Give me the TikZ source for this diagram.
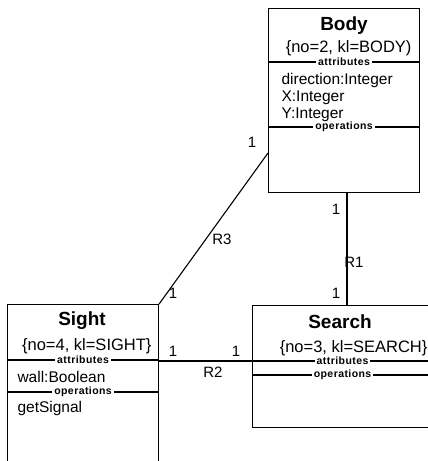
\documentclass[tikz,border=0pt]{standalone}
\usepackage{fontspec}
\setmainfont{Liberation Sans}
\newfontfamily\sectfam[LetterSpace=4]{Liberation Sans}
\begin{document}
\begin{tikzpicture}[x=1pt,y=-1pt,line width=1.1pt,
  box/.style={draw,anchor=north west,inner sep=0,rectangle},
  title/.style={font=\fontsize{19}{22}\selectfont\bfseries,anchor=base,inner sep=0},
  info/.style={font=\fontsize{16.5}{19}\selectfont,anchor=base east,inner sep=0},
  item/.style={font=\fontsize{15.5}{18}\selectfont,anchor=base west,inner sep=0},
  sect/.style={font=\sectfam\fontsize{10.5}{12}\selectfont\bfseries,fill=white,inner xsep=2pt,inner ysep=0.5pt},
  lab/.style={font=\fontsize{15}{17}\selectfont,inner sep=0}]
\useasboundingbox (0,0) rectangle (428,461);
\clip (0,0) rectangle (428,461);
% boxes
\node[box,minimum width=151pt,minimum height=184pt] (Body) at (268,8) {};
\node[box,minimum width=151pt,minimum height=175pt] (Sight) at (7,304) {};
\node[box,minimum width=180pt,minimum height=122pt] (Search) at (252,305) {};
% Body
\node[title] (bodyT) at (344,30) {Body};
\node[info] (bodyI) at (412,52) {\{no=2, kl=BODY)};
\draw (Body.west |- 0,62) -- node[sect] (bodyA) {attributes} (Body.east |- 0,62);
\node[item] (bodyA1) at (281,84) {direction:Integer};
\node[item] (bodyA2) at (281,101) {X:Integer};
\node[item] (bodyA3) at (281,118) {Y:Integer};
\draw (Body.west |- 0,127) -- node[sect] (bodyO) {operations} (Body.east |- 0,127);
% Sight
\node[title] (sightT) at (82,325) {Sight};
\node[info] (sightI) at (152,350) {\{no=4, kl=SIGHT\}};
\draw (Sight.west |- 0,360) -- node[sect] (sightA) {attributes} (Sight.east |- 0,360);
\node[item] (sightA1) at (17,382) {wall:Boolean};
\draw (Sight.west |- 0,392) -- node[sect] (sightO) {operations} (Sight.east |- 0,392);
\node[item] (sightO1) at (17,412) {getSignal};
% Search
\node[title] (searchT) at (340,328) {Search};
\node[info] (searchI) at (428,352) {\{no=3, kl=SEARCH\}};
\draw (Search.west |- 0,361) -- node[sect] (searchA) {attributes} (Search.east |- 0,361);
\draw (Search.west |- 0,375) -- node[sect] (searchO) {operations} (Search.east |- 0,375);
% connectors
\draw (Body.south -| 347,0) -- (Search.north -| 347,0);
\draw (Body.west |- 0,153) -- (Sight.north east);
\draw (Sight.east |- 0,361) -- (Search.west |- 0,361);
% labels
\node[lab] (l1a) at (336,209) {1};
\node[lab] (r1) at (354,262) {R1};
\node[lab] (l1b) at (336,293) {1};
\node[lab] (l3a) at (252,142) {1};
\node[lab] (r3) at (222,239) {R3};
\node[lab] (l3b) at (173,293) {1};
\node[lab] (l2a) at (173,351) {1};
\node[lab] (r2) at (213,372) {R2};
\node[lab] (l2b) at (236,351) {1};
\end{tikzpicture}
\end{document}
